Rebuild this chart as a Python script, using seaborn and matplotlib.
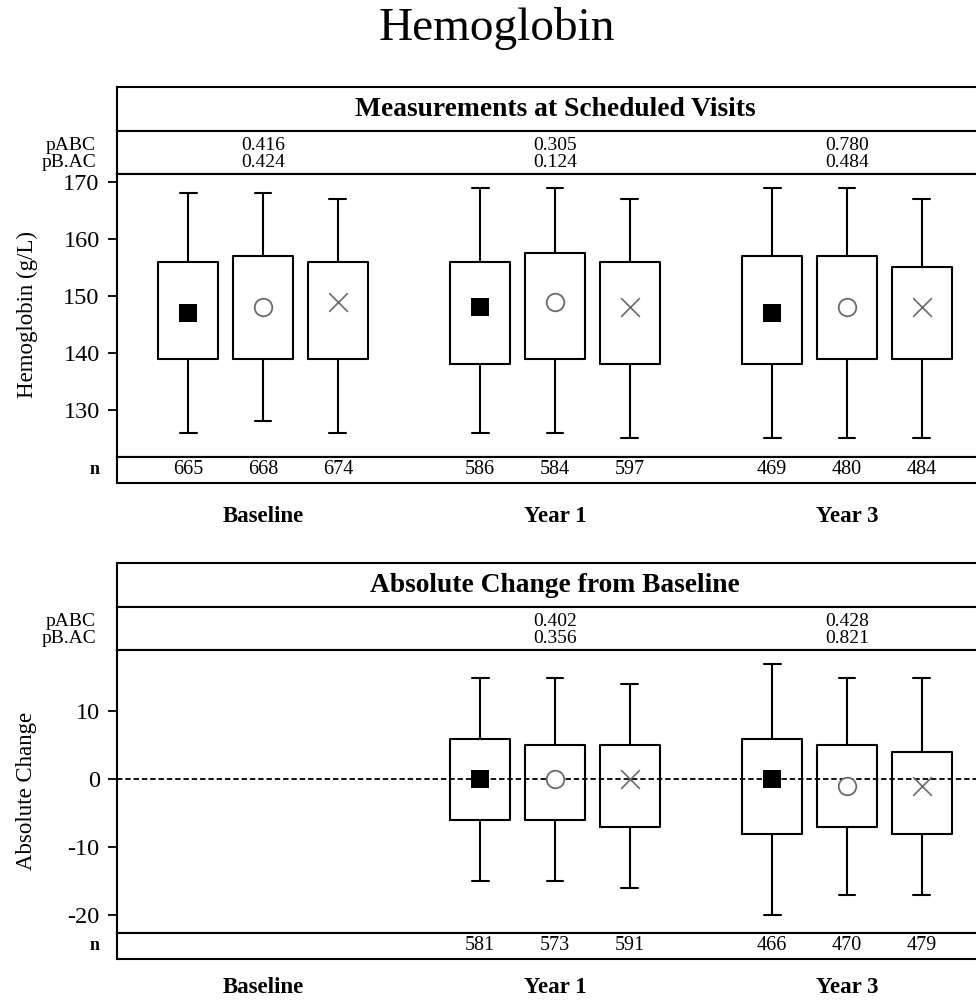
import numpy as np
import pandas as pd
import matplotlib
matplotlib.use("Agg")
import matplotlib.pyplot as plt
import seaborn as sns

# ---- data -------------------------------------------------------------
visits = ["Baseline", "Year 1", "Year 3"]
arms = ["A", "B", "C"]

# Hemoglobin (g/L) at scheduled visits; order: visit, then arm A/B/C
hgb_visits = ["Baseline", "Baseline", "Baseline", "Year 1", "Year 1", "Year 1",
              "Year 3", "Year 3", "Year 3"]
hgb_arms = ["A", "B", "C"] * 3
hgb_whis_lo = [126, 128, 126, 126, 126, 125, 125, 125, 125]
hgb_q1 = [139, 139, 139, 138, 139, 138, 138, 139, 139]
hgb_mean = [147, 148, 149, 148, 149, 148, 147, 148, 148]
hgb_q3 = [156, 157, 156, 156, 157.5, 156, 157, 157, 155]
hgb_whis_hi = [168, 168, 167, 169, 169, 167, 169, 169, 167]
hgb_n = [665, 668, 674, 586, 584, 597, 469, 480, 484]
hgb_p_abc = ["0.416", "0.305", "0.780"]
hgb_p_b_ac = ["0.424", "0.124", "0.484"]

# Absolute change from baseline
chg_visits = ["Year 1", "Year 1", "Year 1", "Year 3", "Year 3", "Year 3"]
chg_arms = ["A", "B", "C"] * 2
chg_whis_lo = [-15, -15, -16, -20, -17, -17]
chg_q1 = [-6, -6, -7, -8, -7, -8]
chg_mean = [0, 0, 0, 0, -1, -1]
chg_q3 = [6, 5, 5, 6, 5, 4]
chg_whis_hi = [15, 15, 14, 17, 15, 15]
chg_n = [581, 573, 591, 466, 470, 479]
chg_p_visits = ["Year 1", "Year 3"]
chg_p_abc = ["0.402", "0.428"]
chg_p_b_ac = ["0.356", "0.821"]

# ---- style ------------------------------------------------------------
sns.set_style("white")
plt.rcParams["font.family"] = ["Liberation Serif", "DejaVu Serif"]
plt.rcParams["axes.linewidth"] = 1.5
plt.rcParams["axes.edgecolor"] = "black"
plt.rcParams["axes.unicode_minus"] = False
for key in ["text.color", "axes.labelcolor", "xtick.color", "ytick.color"]:
    plt.rcParams[key] = "black"

W, H = 976, 1002
fig = plt.figure(figsize=(W / 100, H / 100), dpi=100)
X0, X1 = 117, 993
BOX_WIDTH, BOX_GAP = 0.77, 0.2
offsets = {a: (i - 1) * BOX_WIDTH / len(arms) for i, a in enumerate(arms)}


def px_axes(left, top, right, bottom):
    return fig.add_axes([left / W, 1 - bottom / H, (right - left) / W, (bottom - top) / H])


def strip_axes(ax):
    ax.set_xlim(-0.5, 2.5)
    ax.set_ylim(0, 1)
    ax.set_xticks([])
    ax.set_yticks([])
    for s in ax.spines.values():
        s.set_visible(True)
        s.set_linewidth(1.5)


def panel(top, header, ylabel, vis, arm, lo, q1, mean, q3, hi, n,
          p_vis, p_abc, p_b_ac, ylim, yticks, zero_line=False, label_pad=16):
    hdr = px_axes(X0, top, X1, top + 44)
    strip_axes(hdr)
    hdr.text(0.5, 0.5, header, transform=hdr.transAxes, ha="center",
             va="center", fontsize=19.8, fontweight="bold")

    pax = px_axes(X0, top + 44, X1, top + 87)
    strip_axes(pax)
    pax.text(-0.024, 0.66, "pABC", transform=pax.transAxes, ha="right",
             va="center", fontsize=14)
    pax.text(-0.024, 0.26, "pB.AC", transform=pax.transAxes, ha="right",
             va="center", fontsize=14)
    for v, a, b in zip(p_vis, p_abc, p_b_ac):
        gx = visits.index(v)
        pax.text(gx, 0.66, a, ha="center", va="center", fontsize=14)
        pax.text(gx, 0.26, b, ha="center", va="center", fontsize=14)

    ax = px_axes(X0, top + 87, X1, top + 370)
    rows = []
    for v, a, vals in zip(vis, arm, zip(lo, q1, mean, q3, hi)):
        for val in vals:
            rows.append({"visit": v, "arm": a, "value": val})
    df = pd.DataFrame(rows)
    if zero_line:
        ax.axhline(0, color="black", lw=1.3, ls=(0, (3, 1.6)), zorder=1)
    sns.boxplot(data=df, x="visit", y="value", hue="arm", order=visits,
                hue_order=arms, width=BOX_WIDTH, gap=BOX_GAP, whis=(0, 100),
                fill=False, palette=["black"] * 3, linewidth=1.5,
                medianprops={"visible": False}, capwidths=0.058,
                legend=False, ax=ax)

    means = pd.DataFrame({"visit": vis, "arm": arm, "mean": mean})
    means["pos"] = [visits.index(v) + offsets[a] for v, a in zip(vis, arm)]
    sub = means[means["arm"] == "A"]
    sns.scatterplot(x=sub["pos"], y=sub["mean"], marker="s", color="black",
                    s=165, linewidth=0, zorder=4, ax=ax)
    sub = means[means["arm"] == "B"]
    sns.scatterplot(x=sub["pos"], y=sub["mean"], marker="o", facecolor="white",
                    edgecolor="#6a6a6a", s=160, linewidth=1.3, zorder=4, ax=ax)
    sub = means[means["arm"] == "C"]
    sns.scatterplot(x=sub["pos"], y=sub["mean"], marker="x", color="#6a6a6a",
                    s=180, linewidth=1.2, zorder=4, ax=ax)

    ax.set_xlim(-0.5, 2.5)
    ax.set_ylim(*ylim)
    ax.set_yticks(yticks)
    ax.set_xticks([])
    ax.set_xlabel("")
    ax.set_ylabel("")
    for s in ax.spines.values():
        s.set_visible(True)
        s.set_linewidth(1.5)
    ax.tick_params(axis="y", direction="out", length=6.5, width=1.3,
                   labelsize=17.5, pad=6, left=True)
    fig.text(27 / W, 1 - (top + 87 + 141) / H, ylabel, rotation=90,
             ha="center", va="center", fontsize=16.5)

    nax = px_axes(X0, top + 370, X1, top + 396)
    strip_axes(nax)
    nax.text(-0.02, 0.5, "n", transform=nax.transAxes, ha="right",
             va="center", fontsize=13, fontweight="bold")
    for v, a, cnt in zip(vis, arm, n):
        nax.text(visits.index(v) + offsets[a], 0.5, str(cnt), ha="center",
                 va="center", fontsize=14.5)
    nax.set_xticks(range(len(visits)))
    nax.set_xticklabels(visits, fontsize=16.5, fontweight="bold")
    nax.tick_params(axis="x", length=0, pad=label_pad)


panel(87, "Measurements at Scheduled Visits", "Hemoglobin (g/L)",
      hgb_visits, hgb_arms, hgb_whis_lo, hgb_q1, hgb_mean, hgb_q3, hgb_whis_hi,
      hgb_n, visits, hgb_p_abc, hgb_p_b_ac, (121.75, 171.4),
      [130, 140, 150, 160, 170], label_pad=16.5)

panel(563, "Absolute Change from Baseline", "Absolute Change",
      chg_visits, chg_arms, chg_whis_lo, chg_q1, chg_mean, chg_q3, chg_whis_hi,
      chg_n, chg_p_visits, chg_p_abc, chg_p_b_ac, (-22.6, 19.05),
      [-20, -10, 0, 10], zero_line=True, label_pad=13)

fig.text(497 / W, 1 - 40 / H, "Hemoglobin", ha="center", va="baseline",
         fontsize=34)

fig.savefig("out.png", dpi=100)
